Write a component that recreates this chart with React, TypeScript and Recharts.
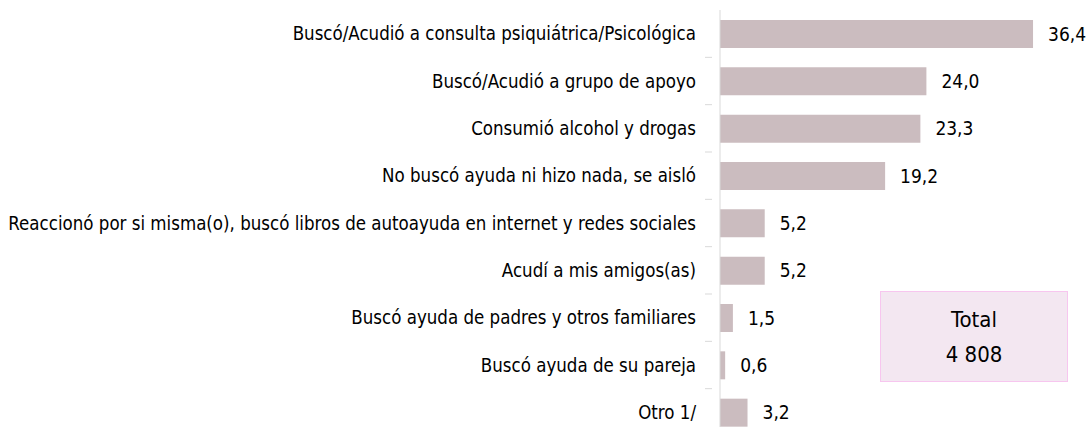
import { Bar, BarChart, LabelList, XAxis, YAxis } from "recharts";

const categories = [
  "Buscó/Acudió a consulta psiquiátrica/Psicológica",
  "Buscó/Acudió a grupo de apoyo",
  "Consumió alcohol y drogas",
  "No buscó ayuda ni hizo nada, se aisló",
  "Reaccionó por si misma(o), buscó libros de autoayuda en internet y redes sociales",
  "Acudí a mis amigos(as)",
  "Buscó ayuda de padres y otros familiares",
  "Buscó ayuda de su pareja",
  "Otro 1/",
];
const values = [36.4, 24.0, 23.3, 19.2, 5.2, 5.2, 1.5, 0.6, 3.2];
const totalLabel = "Total";
const totalValue = "4 808";

const data = categories.map((name, i) => ({ name, value: values[i] }));

const FONT = "'DejaVu Sans Condensed', sans-serif";
const BAND = 426 / categories.length;

function CategoryTick(props: any) {
  const { x, y, payload, index } = props;
  const last = index === categories.length - 1;
  return (
    <g>
      <text
        x={x - 16}
        y={y}
        textAnchor="end"
        dominantBaseline="central"
        fontSize={18.55}
        fontFamily={FONT}
        fill="#000"
      >
        {payload.value}
      </text>
      {!last && (
        <line x1={x - 7} x2={x} y1={y + BAND / 2} y2={y + BAND / 2} stroke="#d9d9d9" />
      )}
    </g>
  );
}

export default function App() {
  return (
    <div
      style={{
        position: "absolute",
        top: 0,
        left: 0,
        width: 1088,
        height: 427,
        overflow: "hidden",
        background: "#fff",
      }}
    >
      <BarChart
        width={1088}
        height={440}
        data={data}
        layout="vertical"
        margin={{ top: 10, right: 24, bottom: 4, left: 0 }}
        barSize={28}
      >
        <XAxis type="number" domain={[0, 40]} hide />
        <YAxis
          type="category"
          dataKey="name"
          width={720}
          axisLine={{ stroke: "#d9d9d9" }}
          tickLine={false}
          tick={<CategoryTick />}
          interval={0}
        />
        <Bar dataKey="value" fill="#cbbcbf" isAnimationActive={false}>
          <LabelList
            dataKey="value"
            position="right"
            offset={15}
            formatter={(v: any) => Number(v).toFixed(1).replace(".", ",")}
            style={{ fontSize: 19, fontFamily: FONT, fill: "#000" }}
          />
        </Bar>
      </BarChart>
      <div
        style={{
          position: "absolute",
          left: 880,
          top: 291,
          width: 186,
          height: 89,
          background: "#f3e7f1",
          border: "1px solid #f7c6ef",
          display: "flex",
          flexDirection: "column",
          alignItems: "center",
          justifyContent: "center",
          fontFamily: FONT,
          fontSize: 22,
          lineHeight: "35px",
          color: "#000",
        }}
      >
        <div>{totalLabel}</div>
        <div>{totalValue}</div>
      </div>
    </div>
  );
}
